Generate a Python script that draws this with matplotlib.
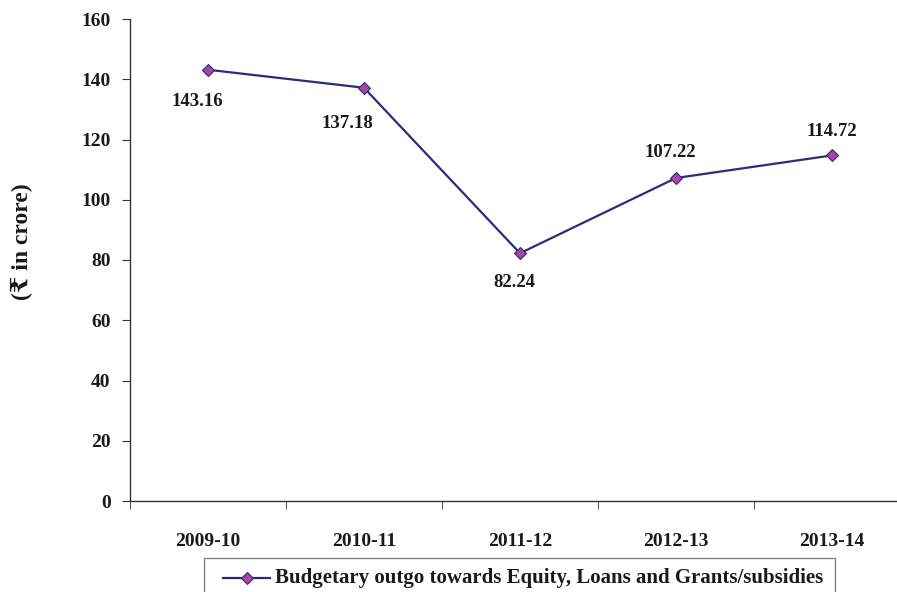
import numpy as np
import matplotlib.pyplot as plt
from matplotlib.patches import Rectangle
from matplotlib.lines import Line2D

years = ['2009-10', '2010-11', '2011-12', '2012-13', '2013-14']
outgo = [143.16, 137.18, 82.24, 107.22, 114.72]
# label offsets in points (dx, dy) relative to each marker
label_offsets = [(-8, -23), (-12, -26), (-4, -21), (-4, 18), (0, 17)]

serif = ['Liberation Serif', 'DejaVu Serif', 'DejaVu Sans']
plt.rcParams['font.family'] = serif

W, H = 897, 592
fig = plt.figure(figsize=(W / 100, H / 100), dpi=100)
ax = fig.add_axes([130 / W, 1 - 501 / H, 780 / W, 482 / H])

line_col = '#2B2B7F'
mark_col = '#A9479F'
name = 'Budgetary outgo towards Equity, Loans and Grants/subsidies'

x = np.arange(len(years))
ax.plot(x, outgo, color=line_col, linewidth=1.6, marker='D', markersize=6,
        markerfacecolor=mark_col, markeredgecolor=line_col, markeredgewidth=0.8)

for xi, v, (dx, dy) in zip(x, outgo, label_offsets):
    ax.annotate(f'{v:.2f}', (xi, v), xytext=(dx, dy), textcoords='offset points',
                ha='center', va='center', fontsize=13.5, fontweight='bold', color='#1a1a1a')

ax.set_xlim(-0.5, len(years) - 0.5)
ax.set_ylim(0, 160)
ax.set_yticks(np.arange(0, 161, 20))
ax.set_xticks(x)
ax.set_xticklabels(years)
ax.set_xticks(np.arange(-0.5, len(years), 1), minor=True)
ax.tick_params(axis='x', which='major', length=0, pad=23)
ax.tick_params(axis='x', which='minor', length=6, direction='out', color='#333333')
ax.tick_params(axis='y', length=6, direction='out', color='#333333', pad=8)
for lbl in ax.get_xticklabels() + ax.get_yticklabels():
    lbl.set_fontsize(14)
    lbl.set_fontweight('bold')
    lbl.set_color('#1a1a1a')

for s in ['top', 'right']:
    ax.spines[s].set_visible(False)
for s in ['left', 'bottom']:
    ax.spines[s].set_color('#333333')
    ax.spines[s].set_linewidth(1.0)

fig.text(22 / W, 1 - 242 / H, '(₹ in crore)', rotation=90, ha='center', va='center',
         fontsize=17, fontweight='bold', color='#1a1a1a', family=serif)

# legend box drawn by hand so it can run off the bottom edge
box = Rectangle((204 / W, -0.05), (835 - 204) / W, 1 - 558 / H + 0.05,
                transform=fig.transFigure, facecolor='white', edgecolor='#808080',
                linewidth=1.0)
fig.patches.append(box)
ly = 1 - 578 / H
fig.lines.append(Line2D([223 / W, 270 / W], [ly, ly], transform=fig.transFigure,
                        color=line_col, linewidth=1.6))
fig.lines.append(Line2D([246.5 / W], [ly], transform=fig.transFigure, marker='D',
                        markersize=6, markerfacecolor=mark_col, markeredgecolor=line_col,
                        markeredgewidth=0.8))
fig.text(275 / W, ly, name, ha='left', va='center', fontsize=15, fontweight='bold',
         color='#1a1a1a', family=serif)

fig.savefig('out.png', dpi=100)
